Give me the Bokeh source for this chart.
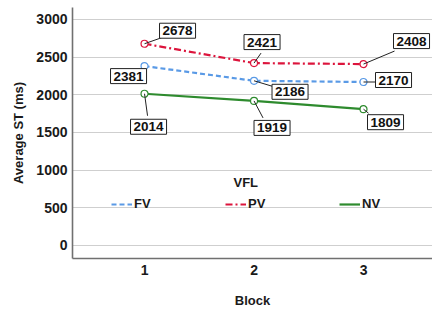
from bokeh.plotting import figure
from bokeh.models import ColumnDataSource, Legend, LegendItem, Label, Range1d, FixedTicker
from bokeh.core.properties import value
from bokeh.embed import file_html
from bokeh.resources import INLINE

blocks = [1, 2, 3]
fv = [2381, 2186, 2170]
pv = [2678, 2421, 2408]
nv = [2014, 1919, 1809]
y_ticks = [0, 500, 1000, 1500, 2000, 2500, 3000]

FONT = "Liberation Sans"
C_FV = "#5a9ae6"
C_PV = "#dc143c"
C_NV = "#2e8b2e"

# label box offsets (px) relative to point, and leader-line end offsets (px)
lab_dx = {"FV": [-16, 36, 30], "PV": [33, 8, 48], "NV": [4, 18, 22]}
lab_dy = {"FV": [10, 11, -2], "PV": [-13, -21, -23], "NV": [33, 27, 13]}
lead_dx = {"FV": [0, 20, 12], "PV": [17, 7, 31], "NV": [3, 9, 5]}
lead_dy = {"FV": [0, 6, 0], "PV": [-6, -10, -13], "NV": [22, 17, 4]}

W, H = 432, 310
BL, BR, BT, BB = 72, 0, 7, 52
X0, X1 = 0.342, 3.63
Y0, Y1 = -173, 3159
fw, fh = W - BL - BR, H - BT - BB
px_x = (X1 - X0) / fw
px_y = (Y1 - Y0) / fh

p = figure(width=W, height=H, output_backend="svg", toolbar_location=None,
           x_range=Range1d(X0, X1), y_range=Range1d(Y0, Y1),
           min_border_left=BL, min_border_right=BR, min_border_top=BT, min_border_bottom=BB)
p.outline_line_color = None
p.xgrid.grid_line_color = None
p.ygrid.grid_line_color = "#cfcfcf"
p.ygrid.grid_line_width = 1.2
p.yaxis.ticker = FixedTicker(ticks=y_ticks)
p.xaxis.ticker = FixedTicker(ticks=blocks)
for ax in (p.xaxis[0], p.yaxis[0]):
    ax.axis_line_color = "#707070"
    ax.axis_line_width = 1.6
    ax.major_tick_line_color = None
    ax.minor_tick_line_color = None
    ax.major_tick_out = 0
    ax.major_tick_in = 0
    ax.major_label_text_font = FONT
    ax.major_label_text_font_style = "bold"
    ax.major_label_text_font_size = "14px"
    ax.major_label_text_color = "#1a1a1a"
    ax.axis_label_text_font = FONT
    ax.axis_label_text_font_style = "bold"
    ax.axis_label_text_font_size = "13px"
    ax.axis_label_text_color = "#1a1a1a"
p.xaxis.axis_label = "Block"
p.yaxis.axis_label = "Average ST (ms)"
p.xaxis.major_label_standoff = 6
p.xaxis.axis_label_standoff = 15
p.yaxis.major_label_standoff = 5
p.yaxis.axis_label_standoff = 7

series = [("FV", fv, C_FV, "5 3"), ("PV", pv, C_PV, "7 3 2 3"), ("NV", nv, C_NV, "solid")]
renderers = {}
for name, vals, col, dash in series:
    src = ColumnDataSource(dict(x=blocks, y=vals))
    r = p.line("x", "y", source=src, line_color=col, line_width=2.2, line_dash=dash)
    p.scatter("x", "y", source=src, size=7, marker="circle", line_color=col,
              fill_color="white", line_width=1.2)
    renderers[name] = r
    # leader lines
    lsrc = ColumnDataSource(dict(
        x0=blocks, y0=vals,
        x1=[b + dx * px_x for b, dx in zip(blocks, lead_dx[name])],
        y1=[v - dy * px_y for v, dy in zip(vals, lead_dy[name])]))
    p.segment("x0", "y0", "x1", "y1", source=lsrc, line_color="#222222", line_width=1)

for name, vals, col, dash in series:
    tsrc = ColumnDataSource(dict(x=blocks, y=vals, t=[str(v) for v in vals],
                                 dx=lab_dx[name], dy=lab_dy[name]))
    p.text("x", "y", text="t", source=tsrc, x_offset="dx", y_offset="dy",
           text_align="center", text_baseline="middle",
           text_font=value(FONT), text_font_style="bold", text_font_size="13.5px",
           text_color="#111111", background_fill_color="white",
           border_line_color="#222222", border_line_width=1, padding=3)

legend = Legend(items=[LegendItem(label=n, renderers=[renderers[n]]) for n, _, _, _ in series],
                orientation="horizontal", location=(39, 47), padding=0, margin=0,
                spacing=0, glyph_width=21, glyph_height=14, label_standoff=2,
                label_width=91, label_height=14,
                border_line_color=None, background_fill_alpha=0,
                label_text_font=FONT, label_text_font_style="bold",
                label_text_font_size="13px", label_text_color="#1a1a1a")
p.add_layout(legend)
p.add_layout(Label(x=161, y=76, x_units="screen", y_units="screen", text="VFL",
                   text_font=FONT, text_font_style="bold", text_font_size="13px",
                   text_color="#1a1a1a", text_baseline="middle"))

open("out.html", "w").write(file_html(p, INLINE))
